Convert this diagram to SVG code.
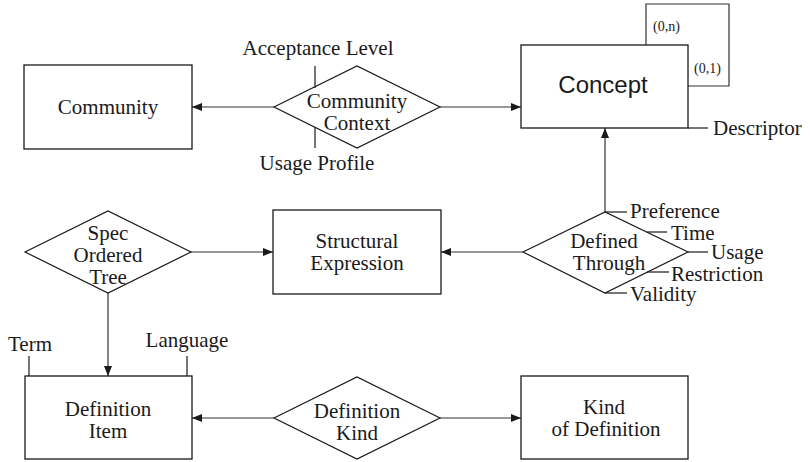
<svg xmlns="http://www.w3.org/2000/svg" width="810" height="462" viewBox="0 0 810 462">
  <style>
    .box { fill: #fff; stroke: #1a1a1a; stroke-width: 1.3; }
    .rel { fill: #fff; stroke: #1a1a1a; stroke-width: 1.2; }
    .edge { fill: none; stroke: #333; stroke-width: 1.2; }
    .attr { fill: none; stroke: #1a1a1a; stroke-width: 1.2; }
    .t { font-family: "Liberation Serif", "Times New Roman", serif; font-size: 21px; fill: #1a1a1a; }
    .c { text-anchor: middle; }
    .small { font-family: "Liberation Serif", "Times New Roman", serif; font-size: 14px; fill: #1a1a1a; }
    .sans { font-family: "Liberation Sans", Arial, sans-serif; font-size: 24px; fill: #1a1a1a; text-anchor: middle; }
  </style>
  <defs>
    <marker id="arrow" viewBox="0 0 10 8" refX="10" refY="4" markerWidth="10" markerHeight="8" markerUnits="userSpaceOnUse" orient="auto">
      <path d="M0,0 L10,4 L0,8 Z" fill="#1a1a1a"/>
    </marker>
  </defs>

  <rect width="810" height="462" fill="#fff"/>

  <!-- connectors -->
  <g id="connectors">
    <line class="edge" x1="274" y1="107" x2="192" y2="107" marker-end="url(#arrow)"/>
    <line class="edge" x1="440" y1="107" x2="521" y2="107" marker-end="url(#arrow)"/>
    <line class="edge" x1="605" y1="212" x2="605" y2="128" marker-end="url(#arrow)"/>
    <line class="edge" x1="523" y1="252" x2="441" y2="252" marker-end="url(#arrow)"/>
    <line class="edge" x1="191" y1="252" x2="273" y2="252" marker-end="url(#arrow)"/>
    <line class="edge" x1="108" y1="293" x2="108" y2="376" marker-end="url(#arrow)"/>
    <line class="edge" x1="274" y1="418" x2="192" y2="418" marker-end="url(#arrow)"/>
    <line class="edge" x1="440" y1="418" x2="521" y2="418" marker-end="url(#arrow)"/>
    <!-- recursive relation on Concept -->
    <polyline class="edge" points="646,45 646,4 729,4 729,86 688,86"/>
  </g>

  <g id="community">
    <rect class="box" x="24" y="65" width="168" height="84"/>
    <text class="t c" x="108" y="114">Community</text>
  </g>

  <g id="community-context">
    <polygon class="rel" points="274,107 357,66 440,107 357,148"/>
    <line class="attr" x1="315" y1="66" x2="315" y2="88"/>
    <line class="attr" x1="315" y1="127" x2="315" y2="148"/>
    <text class="t c" x="357" y="108">Community</text>
    <text class="t c" x="357" y="130">Context</text>
    <text class="t c" x="318" y="55">Acceptance Level</text>
    <text class="t c" x="317" y="170">Usage Profile</text>
  </g>

  <g id="concept">
    <rect class="box" x="521" y="45" width="167" height="83"/>
    <text class="sans" x="603" y="93">Concept</text>
    <line class="attr" x1="688" y1="128" x2="708" y2="128"/>
    <text class="t" x="713" y="135">Descriptor</text>
    <text class="small" x="653" y="31">(0,n)</text>
    <text class="small" x="694" y="73">(0,1)</text>
  </g>

  <g id="spec-ordered-tree">
    <polygon class="rel" points="25,252 108,211 191,252 108,293"/>
    <text class="t c" x="108" y="240">Spec</text>
    <text class="t c" x="108" y="262">Ordered</text>
    <text class="t c" x="108" y="284">Tree</text>
  </g>

  <g id="structural-expression">
    <rect class="box" x="273" y="210" width="168" height="84"/>
    <text class="t c" x="357" y="248">Structural</text>
    <text class="t c" x="357" y="270">Expression</text>
  </g>

  <g id="defined-through">
    <polygon class="rel" points="523,252 605,212 688,252 605,293"/>
    <text class="t c" x="604" y="248">Defined</text>
    <text class="t c" x="609" y="270">Through</text>
    <line class="attr" x1="605" y1="212" x2="627" y2="212"/>
    <text class="t" x="630" y="218">Preference</text>
    <line class="attr" x1="647" y1="232" x2="667" y2="232"/>
    <text class="t" x="671" y="240">Time</text>
    <line class="attr" x1="688" y1="252" x2="708" y2="252"/>
    <text class="t" x="711" y="259">Usage</text>
    <line class="attr" x1="647" y1="272" x2="669" y2="272"/>
    <text class="t" x="671" y="281">Restriction</text>
    <line class="attr" x1="605" y1="293" x2="627" y2="293"/>
    <text class="t" x="630" y="301">Validity</text>
  </g>

  <g id="definition-item">
    <rect class="box" x="25" y="376" width="167" height="83"/>
    <text class="t c" x="108" y="416">Definition</text>
    <text class="t c" x="108" y="438">Item</text>
    <line class="attr" x1="29" y1="356" x2="29" y2="376"/>
    <line class="attr" x1="187" y1="356" x2="187" y2="376"/>
    <text class="t c" x="30" y="351">Term</text>
    <text class="t c" x="187" y="347">Language</text>
  </g>

  <g id="definition-kind">
    <polygon class="rel" points="274,418 357,377 440,418 357,459"/>
    <text class="t c" x="357" y="418">Definition</text>
    <text class="t c" x="357" y="440">Kind</text>
  </g>

  <g id="kind-of-definition">
    <rect class="box" x="521" y="376" width="167" height="83"/>
    <text class="t c" x="604" y="414">Kind</text>
    <text class="t c" x="606" y="436">of Definition</text>
  </g>
</svg>
